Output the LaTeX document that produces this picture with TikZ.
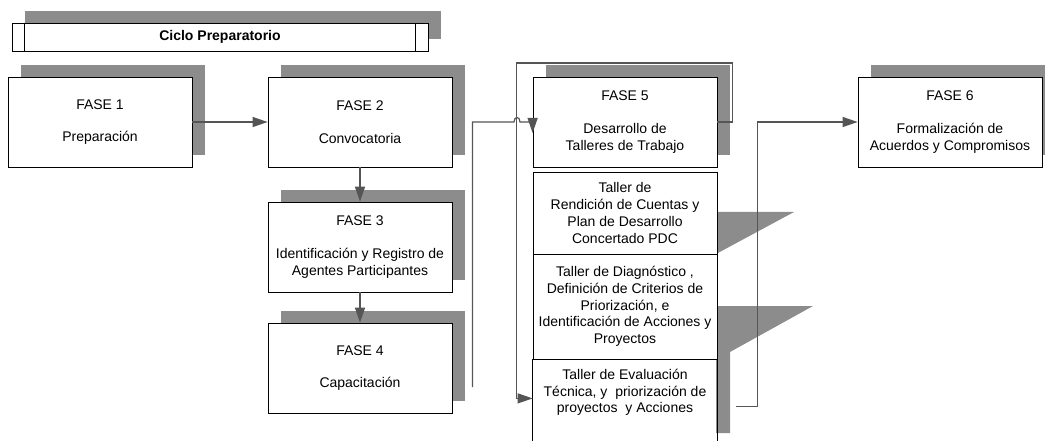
\documentclass[tikz,border=0pt]{standalone}
\usepackage{fontspec}
\setmainfont{Liberation Sans}
\usetikzlibrary{shadows,arrows.meta,calc}

\definecolor{sombra}{RGB}{140,140,140}
\definecolor{linea}{RGB}{85,85,85}

\tikzset{
	fase/.style={draw=black, line width=0.8pt, fill=white, minimum width=184pt, minimum height=90pt, inner sep=2pt, align=center,
		drop shadow={shadow xshift=13pt, shadow yshift=12pt, fill=sombra, opacity=1}},
	taller/.style={draw=black, line width=0.8pt, fill=white, minimum width=184pt, inner sep=2pt, align=center},
	flecha/.style={draw=linea, line width=1.2pt, -{Triangle[length=15pt,width=10pt]}},
}

\begin{document}
\begin{tikzpicture}[x=1pt,y=-1pt,font=\fontsize{14}{16.7}\selectfont]
\useasboundingbox (0,0) rectangle (1045,441);
\clip (0,0) rectangle (1045,441);

% ciclo preparatorio
\node[fase, minimum width=416pt, minimum height=28pt] (ciclo) at (220,37) {\bfseries Ciclo Preparatorio};
\draw[line width=0.8pt] ($(ciclo.north west)+(13,0)$) -- ($(ciclo.south west)+(13,0)$);
\draw[line width=0.8pt] ($(ciclo.north east)+(-13,0)$) -- ($(ciclo.south east)+(-13,0)$);

% fases
\node[fase] (f1) at (100,122) {FASE 1\\[16pt]Preparación};
\node[fase] (f2) at (360,122) {FASE 2\\[16pt]Convocatoria};
\node[fase] (f3) at (360,247) {FASE 3\\[16pt]Identificación y Registro de\\Agentes Participantes};
\node[fase] (f4) at (360,368) {FASE 4\\[16pt]Capacitación};
\node[fase] (f5) at (625,122) {FASE 5\\[16pt]Desarrollo de\\Talleres de Trabajo};
\node[fase] (f6) at (950,122) {FASE 6\\[16pt]Formalización de\\Acuerdos y Compromisos};

% talleres
\fill[sombra] (716,212) -- (794,212) -- (716,254) -- cycle;
\fill[sombra] (716,306) -- (813,306) -- (730,352) -- (730,433) -- (716,433) -- cycle;

\node[taller, minimum height=82pt] (t1) at (625,213) {Taller de\\Rendición de Cuentas y\\Plan de Desarrollo\\Concertado PDC};
\node[taller, minimum height=105pt] (t2) at (625,306.5) {Taller de Diagnóstico ,\\Definición de Criterios de\\Priorización, e\\Identificación de Acciones y\\Proyectos};
\node[taller, draw=none, fill=none, minimum height=66pt, anchor=north] (t3) at (625,359) {Taller de Evaluación\\Técnica, y~ priorización de\\proyectos~ y Acciones};
\draw[line width=0.8pt] (t3.north west) -- ++(0,90) (t3.north east) -- ++(0,90);

% conectores
\draw[flecha] (f1) -- (f2);
\draw[flecha] (f2) -- (f3);
\draw[flecha] (f3) -- (f4);
\draw[flecha] ($(f4.east)+(20,19)$) |- (514,122) .. controls (514,116) and (520,116) .. (520,122) -- (f5.west) -- ++(0,11);
\draw[flecha] (f5.east) -- ++(15,0) -- ++(0,-59) -| ($(t3.west)+(-16,6)$) -- ($(t3.west)+(0,6)$);
\draw[flecha] ($(t3.east)+(19,14)$) -- ++(21,0) |- (f6.west);
\end{tikzpicture}
\end{document}
